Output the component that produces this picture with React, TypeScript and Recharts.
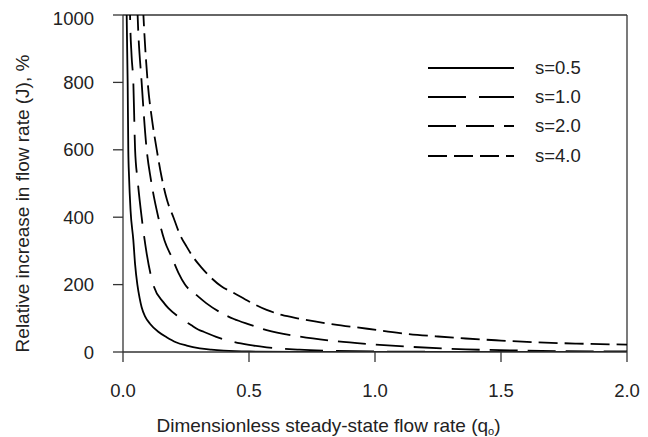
import {LineChart, Line, XAxis, YAxis, Legend, ReferenceLine, Label} from 'recharts';

// curve points, [q0, J %]
const s05 = [[0.01, 1500], [0.0146, 1000], [0.0185, 800], [0.021, 600], [0.024, 520], [0.03, 420], [0.041, 332], [0.048, 260], [0.057, 200], [0.066, 160], [0.074, 133], [0.088, 105], [0.107, 84], [0.14, 60], [0.173, 44], [0.21, 29], [0.253, 19], [0.305, 11], [0.35, 7], [0.4, 4], [0.5, 1.5], [0.7, 0.5], [1.0, 0.2], [1.5, 0], [2.0, 0]];
const s10 = [[0.024, 1250], [0.028, 1000], [0.034, 880], [0.041, 800], [0.048, 600], [0.058, 510], [0.074, 400], [0.094, 292], [0.12, 200], [0.16, 148], [0.18, 130], [0.22, 105], [0.27, 80], [0.3, 66], [0.32, 60], [0.37, 45], [0.438, 30], [0.5, 21], [0.57, 14], [0.7, 7], [0.83, 3.5], [1.0, 1.5], [1.25, 0.6], [1.5, 0.2], [2.0, 0]];
const s20 = [[0.052, 1150], [0.058, 1000], [0.074, 800], [0.094, 600], [0.111, 510], [0.14, 400], [0.165, 330], [0.193, 282], [0.22, 235], [0.246, 200], [0.29, 170], [0.33, 145], [0.385, 118], [0.44, 98], [0.5, 82], [0.57, 65], [0.7, 46], [0.835, 33], [0.97, 24], [1.15, 15], [1.36, 8], [1.6, 4], [2.0, 1.5]];
const s40 = [[0.075, 1100], [0.081, 1000], [0.098, 800], [0.115, 690], [0.134, 600], [0.153, 520], [0.175, 450], [0.2, 400], [0.225, 350], [0.253, 312], [0.28, 280], [0.31, 252], [0.35, 220], [0.39, 195], [0.44, 175], [0.5, 150], [0.57, 125], [0.63, 110], [0.7, 99], [0.835, 82], [0.97, 69], [1.1, 56], [1.25, 46], [1.36, 40], [1.5, 34], [1.63, 29], [1.8, 25], [2.0, 22]];

const seriesNames = ['s=0.5', 's=1.0', 's=2.0', 's=4.0'];
const seriesPoints = [s05, s10, s20, s40];
const dashes = ['', '38 13', '28 10', '19 7'];

const xTicks = [0, 0.5, 1.0, 1.5, 2.0];
const yTicks = [0, 200, 400, 600, 800, 1000];

const font = '"Liberation Sans", Arial, sans-serif';
const ink = '#222';

const toRows = (pts: number[][]) => pts.map(([x, y]) => ({x, y}));

function LegendBox() {
    return (
        <div style={{fontFamily: font, fontSize: 18.5, color: ink}}>
            {seriesNames.map((n, i) => (
                <div key={n} style={{display: 'flex', alignItems: 'center', height: 29.3}}>
                    <svg width={86} height={4} style={{marginRight: 21}}>
                        <line x1={0} y1={2} x2={86} y2={2} stroke="#000" strokeWidth={1.8}
                              strokeDasharray={dashes[i] || undefined}/>
                    </svg>
                    <span>{n}</span>
                </div>
            ))}
        </div>
    );
}

function XTitle(props: any) {
    const {x, y, width} = props.viewBox;
    return (
        <text x={x + width / 2 - 46.5} y={y + 80} textAnchor="middle" fontFamily={font} fontSize={19} fill={ink}>
            Dimensionless steady-state flow rate (q<tspan fontSize={11} dy={3}>o</tspan><tspan dy={-3}>)</tspan>
        </text>
    );
}

function YTitle(props: any) {
    const {y, height} = props.viewBox;
    const cx = 14;
    const cy = y + height / 2 + 20;
    return (
        <text x={cx} y={cy} transform={`rotate(-90 ${cx} ${cy})`} textAnchor="middle" dominantBaseline="central"
              fontFamily={font} fontSize={19} fill={ink}>
            Relative increase in flow rate (J), %
        </text>
    );
}

export default function App() {
    return (
        <LineChart width={640} height={429} margin={{top: 7, right: 21, left: 0, bottom: 0}}>
            <XAxis type="number" dataKey="x" domain={[0, 2]} ticks={xTicks} allowDataOverflow
                   tickFormatter={(v: number) => v.toFixed(1)} height={85} tickSize={10} tickMargin={22}
                   stroke="#333" strokeWidth={1.3}
                   tick={{fill: ink, fontSize: 18.5, fontFamily: font}}>
                <Label content={XTitle}/>
            </XAxis>
            <YAxis type="number" domain={[0, 1000]} ticks={yTicks} allowDataOverflow width={115}
                   tickSize={10} tickMargin={19} stroke="#333" strokeWidth={1.3}
                   tick={{fill: ink, fontSize: 18.5, fontFamily: font}}>
                <Label content={YTitle}/>
            </YAxis>
            <ReferenceLine y={1000} stroke="#333" strokeWidth={1.3}/>
            <ReferenceLine x={2} stroke="#333" strokeWidth={1.3}/>
            {seriesNames.map((n, i) => (
                <Line key={n} name={n} data={toRows(seriesPoints[i])} dataKey="y" type="monotone"
                      stroke="#000" strokeWidth={1.8} strokeDasharray={dashes[i] || undefined}
                      dot={false} activeDot={false} isAnimationActive={false}/>
            ))}
            <Legend layout="vertical" align="center" verticalAlign="middle" content={LegendBox}
                    wrapperStyle={{top: 45, left: 420, width: 'auto'}}/>
        </LineChart>
    );
}
